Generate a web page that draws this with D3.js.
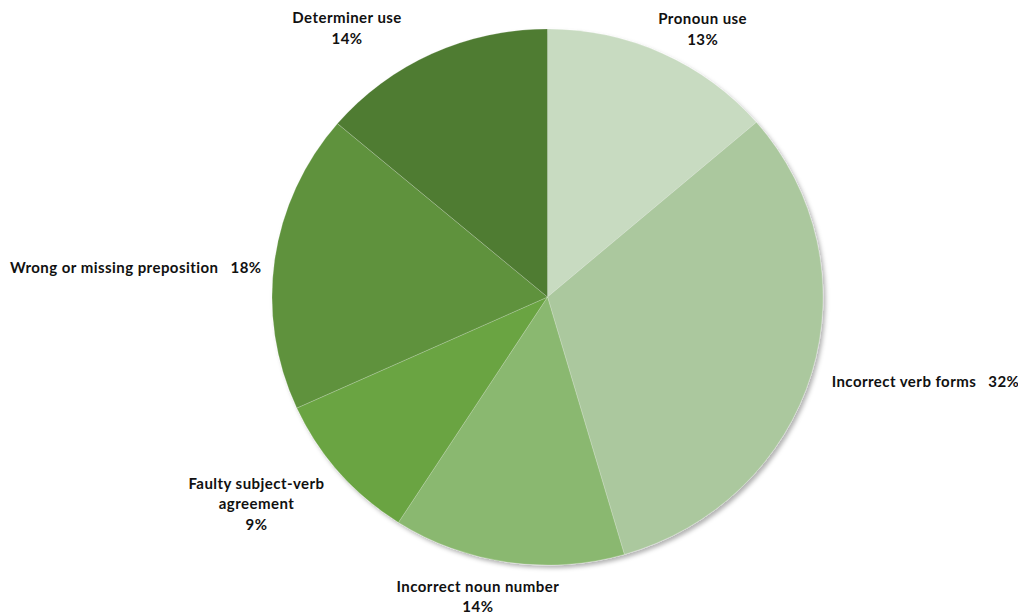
<!DOCTYPE html>
<html>
  <head>
    <meta charset="utf-8" />
    <title>Grammar errors</title>
    <script src="https://d3js.org/d3.v7.min.js"></script>
    <style>
        body { margin:0; background:#fff; }
        text { font-family: "Century Gothic", "URW Gothic", Lato, sans-serif; font-weight:bold; font-size:15px; letter-spacing:0.45px; fill:#111; }
    </style>
  </head>
  <body>
    <svg id="viz"></svg>

    <script>
    var categories = ["Pronoun use", "Incorrect verb forms", "Incorrect noun number",
                      "Faulty subject-verb agreement", "Wrong or missing preposition", "Determiner use"];
    var values = [13.7, 31.8, 13.6, 9.1, 18.0, 13.8];
    var pctLabels = ["13%", "32%", "14%", "9%", "18%", "14%"];
    var colors = ["#c8dbc1", "#abc89e", "#8ab86f", "#6aa443", "#5e923c", "#4f7b32"];

    // how each label is laid out (lines + nudge from the mid-angle point)
    var labelLines = [["Pronoun use", "13%"], null, ["Incorrect noun number", "14%"],
                      ["Faulty subject-verb", "agreement", "9%"], null, ["Determiner use", "14%"]];
    var labelNudge = [[30, -7.6], [-3.4, 7], [-26.4, 5.7], [-64.1, 0.9], [11.2, 16], [-74.4, -9]];

    var width = 1018, height = 616;
    var cx = 547.5, cy = 297, r = 275.5, squash = 0.973;
    var labelR = 300, lineH = 20.5;

    var svg = d3.select("#viz")
      .attr("width", width)
      .attr("height", height);

    var defs = svg.append("defs");
    defs.append("filter")
      .attr("id", "shadow")
      .attr("x", "-10%").attr("y", "-10%").attr("width", "120%").attr("height", "120%")
      .append("feDropShadow")
      .attr("dx", 2.5).attr("dy", 3)
      .attr("stdDeviation", 2)
      .attr("flood-color", "#000")
      .attr("flood-opacity", 0.3);

    var pie = d3.pie().sort(null).value(function(d){ return d; });
    var arcs = pie(values);

    var arc = d3.arc().innerRadius(0).outerRadius(r);

    var g = svg.append("g")
      .attr("transform", "translate(" + cx + "," + cy + ") scale(1," + squash + ")");

    g.append("g")
      .attr("filter", "url(#shadow)")
      .selectAll("path")
      .data(arcs)
      .enter().append("path")
      .attr("d", arc)
      .attr("fill", function(d, i){ return colors[i]; })
      .attr("stroke", "rgba(255,255,255,0.35)")
      .attr("stroke-width", 0.6);

    // labels
    var labels = svg.append("g");

    arcs.forEach(function(d, i) {
      var mid = (d.startAngle + d.endAngle) / 2;
      var px = cx + labelR * Math.sin(mid) + labelNudge[i][0];
      var py = cy - labelR * Math.cos(mid) * squash + labelNudge[i][1];

      if (labelLines[i]) {
        var t = labels.append("text")
          .attr("text-anchor", "middle")
          .attr("x", px).attr("y", py);
        labelLines[i].forEach(function(line, j) {
          t.append("tspan")
            .attr("x", px)
            .attr("dy", j == 0 ? 0 : lineH)
            .text(line);
        });
      } else {
        // single line: name + gap + percent
        var side = Math.sin(mid) > 0 ? "start" : "end";
        var t2 = labels.append("text")
          .attr("text-anchor", side)
          .attr("x", px).attr("y", py);
        t2.append("tspan").text(categories[i]);
        t2.append("tspan").attr("dx", 12).text(pctLabels[i]);
      }
    });
    </script>
  </body>
</html>
